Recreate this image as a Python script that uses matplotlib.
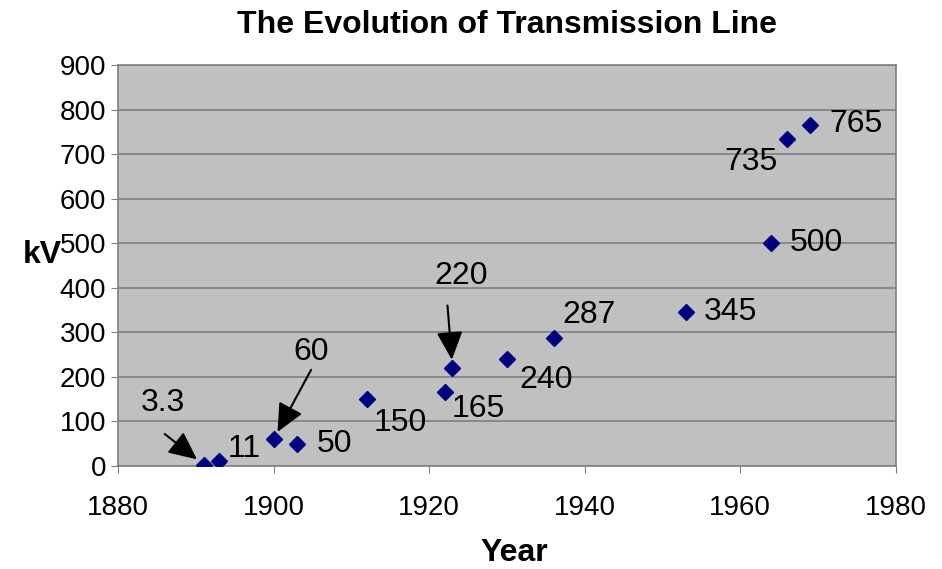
import matplotlib; matplotlib.use("Agg")
import matplotlib.pyplot as plt

plt.rcParams['font.family'] = ['Liberation Sans', 'DejaVu Sans']

years = [1891, 1893, 1900, 1903, 1912, 1922, 1923, 1930, 1936, 1953, 1964, 1966, 1969]
kv = [3.3, 11, 60, 50, 150, 165, 220, 240, 287, 345, 500, 735, 765]
labels = ["3.3", "11", "60", "50", "150", "165", "220", "240", "287", "345", "500", "735", "765"]
# label offsets in points (dx, dy) from each point
offsets = [(-29, 44), (6, 9), (27, 63), (14, 0), (5, -17), (5, -12), (6, 66),
           (9, -15), (6, 17), (13, 0), (13, 0), (-45, -17), (14, 1)]
# arrows: label -> tail offset in points from the point it marks
arrow_tails = {"3.3": (-28, 22), "60": (27, 50), "220": (-3.6, 45)}

fig = plt.figure(figsize=(9.42, 5.69), dpi=100)
ax = fig.add_axes([0.1253, 0.181, 0.8257, 0.7048])
ax.set_facecolor("#C0C0C0")
ax.plot(years, kv, "D", color="#000080", markersize=8, zorder=3)

for x, y, lab, (dx, dy) in zip(years, kv, labels, offsets):
    if lab in arrow_tails:
        ax.annotate(lab, xy=(x, y), xytext=(dx, dy), textcoords="offset points",
                    fontsize=23, ha="center", va="center")
        ax.annotate("", xy=(x, y), xytext=arrow_tails[lab], textcoords="offset points",
                    arrowprops=dict(arrowstyle="-|>,head_length=0.75,head_width=0.35",
                                    mutation_scale=23, color="black", lw=1.5,
                                    shrinkA=0, shrinkB=6))
    else:
        ax.annotate(lab, xy=(x, y), xytext=(dx, dy), textcoords="offset points",
                    fontsize=23, ha="left", va="center")

ax.set_xlim(1880, 1980)
ax.set_ylim(0, 900)
ax.set_xticks(range(1880, 1981, 20))
ax.set_yticks(range(0, 901, 100))
ax.yaxis.grid(True, color="#808080", lw=1.2)
ax.set_axisbelow(True)
ax.tick_params(labelsize=20, direction="out", length=5, color="#808080")
ax.tick_params(axis="x", pad=16)
for s in ax.spines.values():
    s.set_color("#808080")
    s.set_linewidth(1.2)

ax.set_title("The Evolution of Transmission Line", fontsize=23, fontweight="bold", pad=23)
ax.set_xlabel("Year", fontsize=23, fontweight="bold", labelpad=12)
ax.xaxis.label.set_x(0.51)
ax.set_ylabel("kV", fontsize=23, fontweight="bold", rotation=0, ha="right", va="center")
ax.yaxis.set_label_coords(-0.072, 0.526)

fig.savefig("out.png", dpi=100)
